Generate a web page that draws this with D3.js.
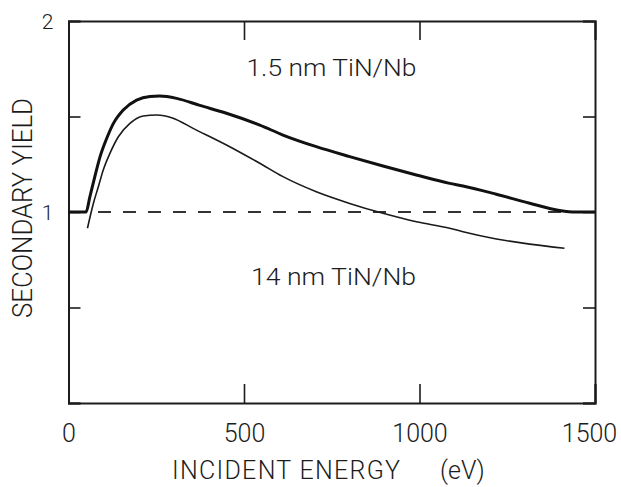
<!DOCTYPE html>
<html>
<head>
<meta charset="utf-8">
<script src="https://cdn.jsdelivr.net/npm/d3@7"></script>
<style>
  body { margin: 0; background: #fff; }
  svg text { font-family: Roboto, "Noto Sans", sans-serif; font-weight: 300; fill: #1c1c1c; }
  .axis path, .axis line { stroke: #1c1c1c; }
</style>
</head>
<body>
<div id="chart"></div>
<script>
// energies in eV, yields
const thickEnergy = [0, 50, 61, 75, 90, 109, 128, 156, 194, 232, 260, 308, 374, 450, 545, 611, 706, 801, 896, 991, 1086, 1124, 1219, 1314, 1399, 1446, 1500];
const thickYield  = [1.0, 1.0, 1.08, 1.185, 1.29, 1.386, 1.464, 1.534, 1.586, 1.605, 1.607, 1.595, 1.558, 1.517, 1.455, 1.403, 1.342, 1.29, 1.241, 1.194, 1.15, 1.136, 1.093, 1.046, 1.008, 1.0, 1.0];
const thinEnergy  = [54, 71, 85, 99, 118, 142, 175, 213, 251, 298, 355, 450, 545, 611, 706, 801, 896, 991, 1086, 1124, 1219, 1314, 1413];
const thinYield   = [0.915, 1.046, 1.132, 1.22, 1.307, 1.394, 1.464, 1.503, 1.508, 1.491, 1.438, 1.351, 1.255, 1.185, 1.106, 1.045, 0.993, 0.949, 0.915, 0.897, 0.859, 0.832, 0.81];
const unityLine   = [84, 1500];
const xTicks = [0, 500, 1000, 1500];
const yTicks = [0, 0.5, 1, 1.5, 2];
const yTickLabels = { 1: '1', 2: '2' };
const labelThick = '1.5 nm  TiN/Nb';
const labelThin = '14 nm  TiN/Nb';

const W = 621, H = 487;
const margin = { top: 21, right: 26, bottom: 84, left: 68.5 };
const width = W - margin.left - margin.right;
const height = H - margin.top - margin.bottom;

const svg = d3.select('#chart').append('svg')
  .attr('width', W)
  .attr('height', H);
const g = svg.append('g')
  .attr('transform', `translate(${margin.left},${margin.top})`);

const x = d3.scaleLinear().domain([0, 1500]).range([0, width]);
const y = d3.scaleLinear().domain([0, 2]).range([height, 0]);

// axes: inward ticks all around
const bottom = g.append('g').attr('class', 'axis')
  .attr('transform', `translate(0,${height})`)
  .call(d3.axisBottom(x).tickValues(xTicks).tickSize(-19).tickPadding(21).tickFormat(d3.format('d')));
bottom.selectAll('text').style('font-size', '25px')
  .attr('dx', d => d === 1500 ? -6 : 0);
g.append('g').attr('class', 'axis')
  .call(d3.axisTop(x).tickValues(xTicks).tickSize(-19).tickFormat(''));
const left = g.append('g').attr('class', 'axis')
  .call(d3.axisLeft(y).tickValues(yTicks).tickSize(-12).tickPadding(15)
    .tickFormat(d => yTickLabels[d] || ''));
left.selectAll('text').style('font-size', '21px').attr('dy', '0.36em');
g.append('g').attr('class', 'axis')
  .attr('transform', `translate(${width},0)`)
  .call(d3.axisRight(y).tickValues(yTicks).tickSize(-12).tickFormat(''));
g.selectAll('.axis path').attr('stroke-width', 2);
g.selectAll('.axis line').attr('stroke-width', 1.6);

// dashed unity line
g.append('line')
  .attr('x1', x(unityLine[0])).attr('x2', x(unityLine[1]))
  .attr('y1', y(1)).attr('y2', y(1))
  .attr('stroke', '#333').attr('stroke-width', 2)
  .attr('stroke-dasharray', '13,12');

const line = d3.line()
  .x(d => x(d[0]))
  .y(d => y(d[1]))
  .curve(d3.curveMonotoneX);

g.append('path')
  .datum(d3.zip(thickEnergy, thickYield))
  .attr('d', line)
  .attr('fill', 'none')
  .attr('stroke', '#111')
  .attr('stroke-width', 3);

g.append('path')
  .datum(d3.zip(thinEnergy, thinYield))
  .attr('d', line)
  .attr('fill', 'none')
  .attr('stroke', '#1a1a1a')
  .attr('stroke-width', 1.6);

// curve labels
g.append('text')
  .attr('x', x(507)).attr('y', y(1.71))
  .attr('textLength', 170).attr('lengthAdjust', 'spacingAndGlyphs')
  .style('font-size', '23px')
  .text(labelThick);
g.append('text')
  .attr('x', x(520)).attr('y', y(0.618))
  .attr('textLength', 165).attr('lengthAdjust', 'spacingAndGlyphs')
  .style('font-size', '23px')
  .text(labelThin);

// axis titles
svg.append('text')
  .attr('x', 172).attr('y', 479)
  .attr('textLength', 228).attr('lengthAdjust', 'spacing')
  .style('font-size', '25px')
  .text('INCIDENT ENERGY');
svg.append('text')
  .attr('x', 440).attr('y', 479)
  .style('font-size', '25px')
  .text('(eV)');
svg.append('text')
  .attr('transform', 'translate(32,208) rotate(-90)')
  .attr('text-anchor', 'middle')
  .attr('textLength', 220).attr('lengthAdjust', 'spacingAndGlyphs')
  .style('font-size', '27px')
  .text('SECONDARY YIELD');
</script>
</body>
</html>
